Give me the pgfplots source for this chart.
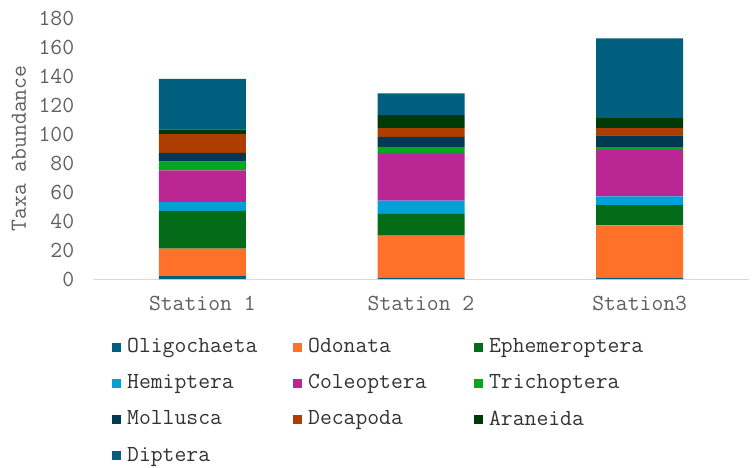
\documentclass[border=0pt]{standalone}
\usepackage{fontspec}
\usepackage{pgfplots}
\pgfplotsset{compat=1.18}

\definecolor{cOligo}{HTML}{005E7E}
\definecolor{cOdon}{HTML}{FF7128}
\definecolor{cEphem}{HTML}{046B18}
\definecolor{cHemi}{HTML}{00A0D8}
\definecolor{cColeo}{HTML}{BA2693}
\definecolor{cTricho}{HTML}{00A91E}
\definecolor{cMoll}{HTML}{003A52}
\definecolor{cDeca}{HTML}{AE3E00}
\definecolor{cAran}{HTML}{003A06}
\definecolor{cDipt}{HTML}{005E7E}
\definecolor{axisgray}{HTML}{5F5F5F}

\newcommand\chartfont{\ttfamily\fontsize{23bp}{27bp}\selectfont}
% fixed-width legend entries so the three columns are evenly spaced
\newcommand\lentry[1]{\makebox[168bp][l]{\hspace{4bp}#1}}

\begin{document}
\chartfont
\begin{tikzpicture}
\useasboundingbox (-93bp,-189bp) rectangle (662bp,279bp);
\begin{axis}[
  at={(0,0)}, anchor=south west,
  scale only axis, width=656bp, height=261bp,
  xmin=-0.5, xmax=2.5, ymin=0, ymax=180,
  ybar stacked, bar width=87bp,
  xtick={0,1,2}, xticklabels={Station 1,Station 2,Station3},
  ytick={0,20,...,180},
  /pgf/number format/assume math mode=true,
  major tick length=0pt,
  axis lines*=left,
  x axis line style={-, draw=black!15, line width=1bp},
  y axis line style={draw=none},
  tick label style={text=axisgray, font=\chartfont},
  yticklabel style={xshift=-11bp},
  xticklabel style={yshift=-9bp},
  ylabel={Taxa abundance},
  every axis y label/.style={at={(axis description cs:-0.1128,0.5)}, rotate=90, anchor=center, text=axisgray, font=\chartfont},
  legend columns=3,
  legend cell align=left,
  legend image code/.code={\fill[#1] (0bp,-4.5bp) rectangle (9bp,4.5bp);},
  legend style={draw=none, fill=none, at={(axis description cs:0,0)}, anchor=north west,
    xshift=16bp, yshift=-55bp, row sep=14.5bp, text=black!80,
    font=\chartfont,
    /tikz/every even column/.append style={column sep=0bp}},
]
% bottom to top: Oligochaeta ... Diptera
\addplot[fill=cOligo, draw=none] coordinates {(0,2) (1,1) (2,1)};
\addlegendentry{\lentry{Oligochaeta}}
\addplot[fill=cOdon, draw=none] coordinates {(0,19) (1,29) (2,36)};
\addlegendentry{\lentry{Odonata}}
\addplot[fill=cEphem, draw=none] coordinates {(0,26) (1,15) (2,14)};
\addlegendentry{\lentry{Ephemeroptera}}
\addplot[fill=cHemi, draw=none] coordinates {(0,6) (1,9) (2,6)};
\addlegendentry{\lentry{Hemiptera}}
\addplot[fill=cColeo, draw=none] coordinates {(0,22) (1,33) (2,32)};
\addlegendentry{\lentry{Coleoptera}}
\addplot[fill=cTricho, draw=none] coordinates {(0,6) (1,4) (2,2)};
\addlegendentry{\lentry{Trichoptera}}
\addplot[fill=cMoll, draw=none] coordinates {(0,6) (1,7) (2,8)};
\addlegendentry{\lentry{Mollusca}}
\addplot[fill=cDeca, draw=none] coordinates {(0,13) (1,6) (2,5)};
\addlegendentry{\lentry{Decapoda}}
\addplot[fill=cAran, draw=none] coordinates {(0,3) (1,9) (2,7)};
\addlegendentry{\lentry{Araneida}}
\addplot[fill=cDipt, draw=none] coordinates {(0,35) (1,15) (2,55)};
\addlegendentry{\lentry{Diptera}}
\end{axis}
\end{tikzpicture}
\end{document}
